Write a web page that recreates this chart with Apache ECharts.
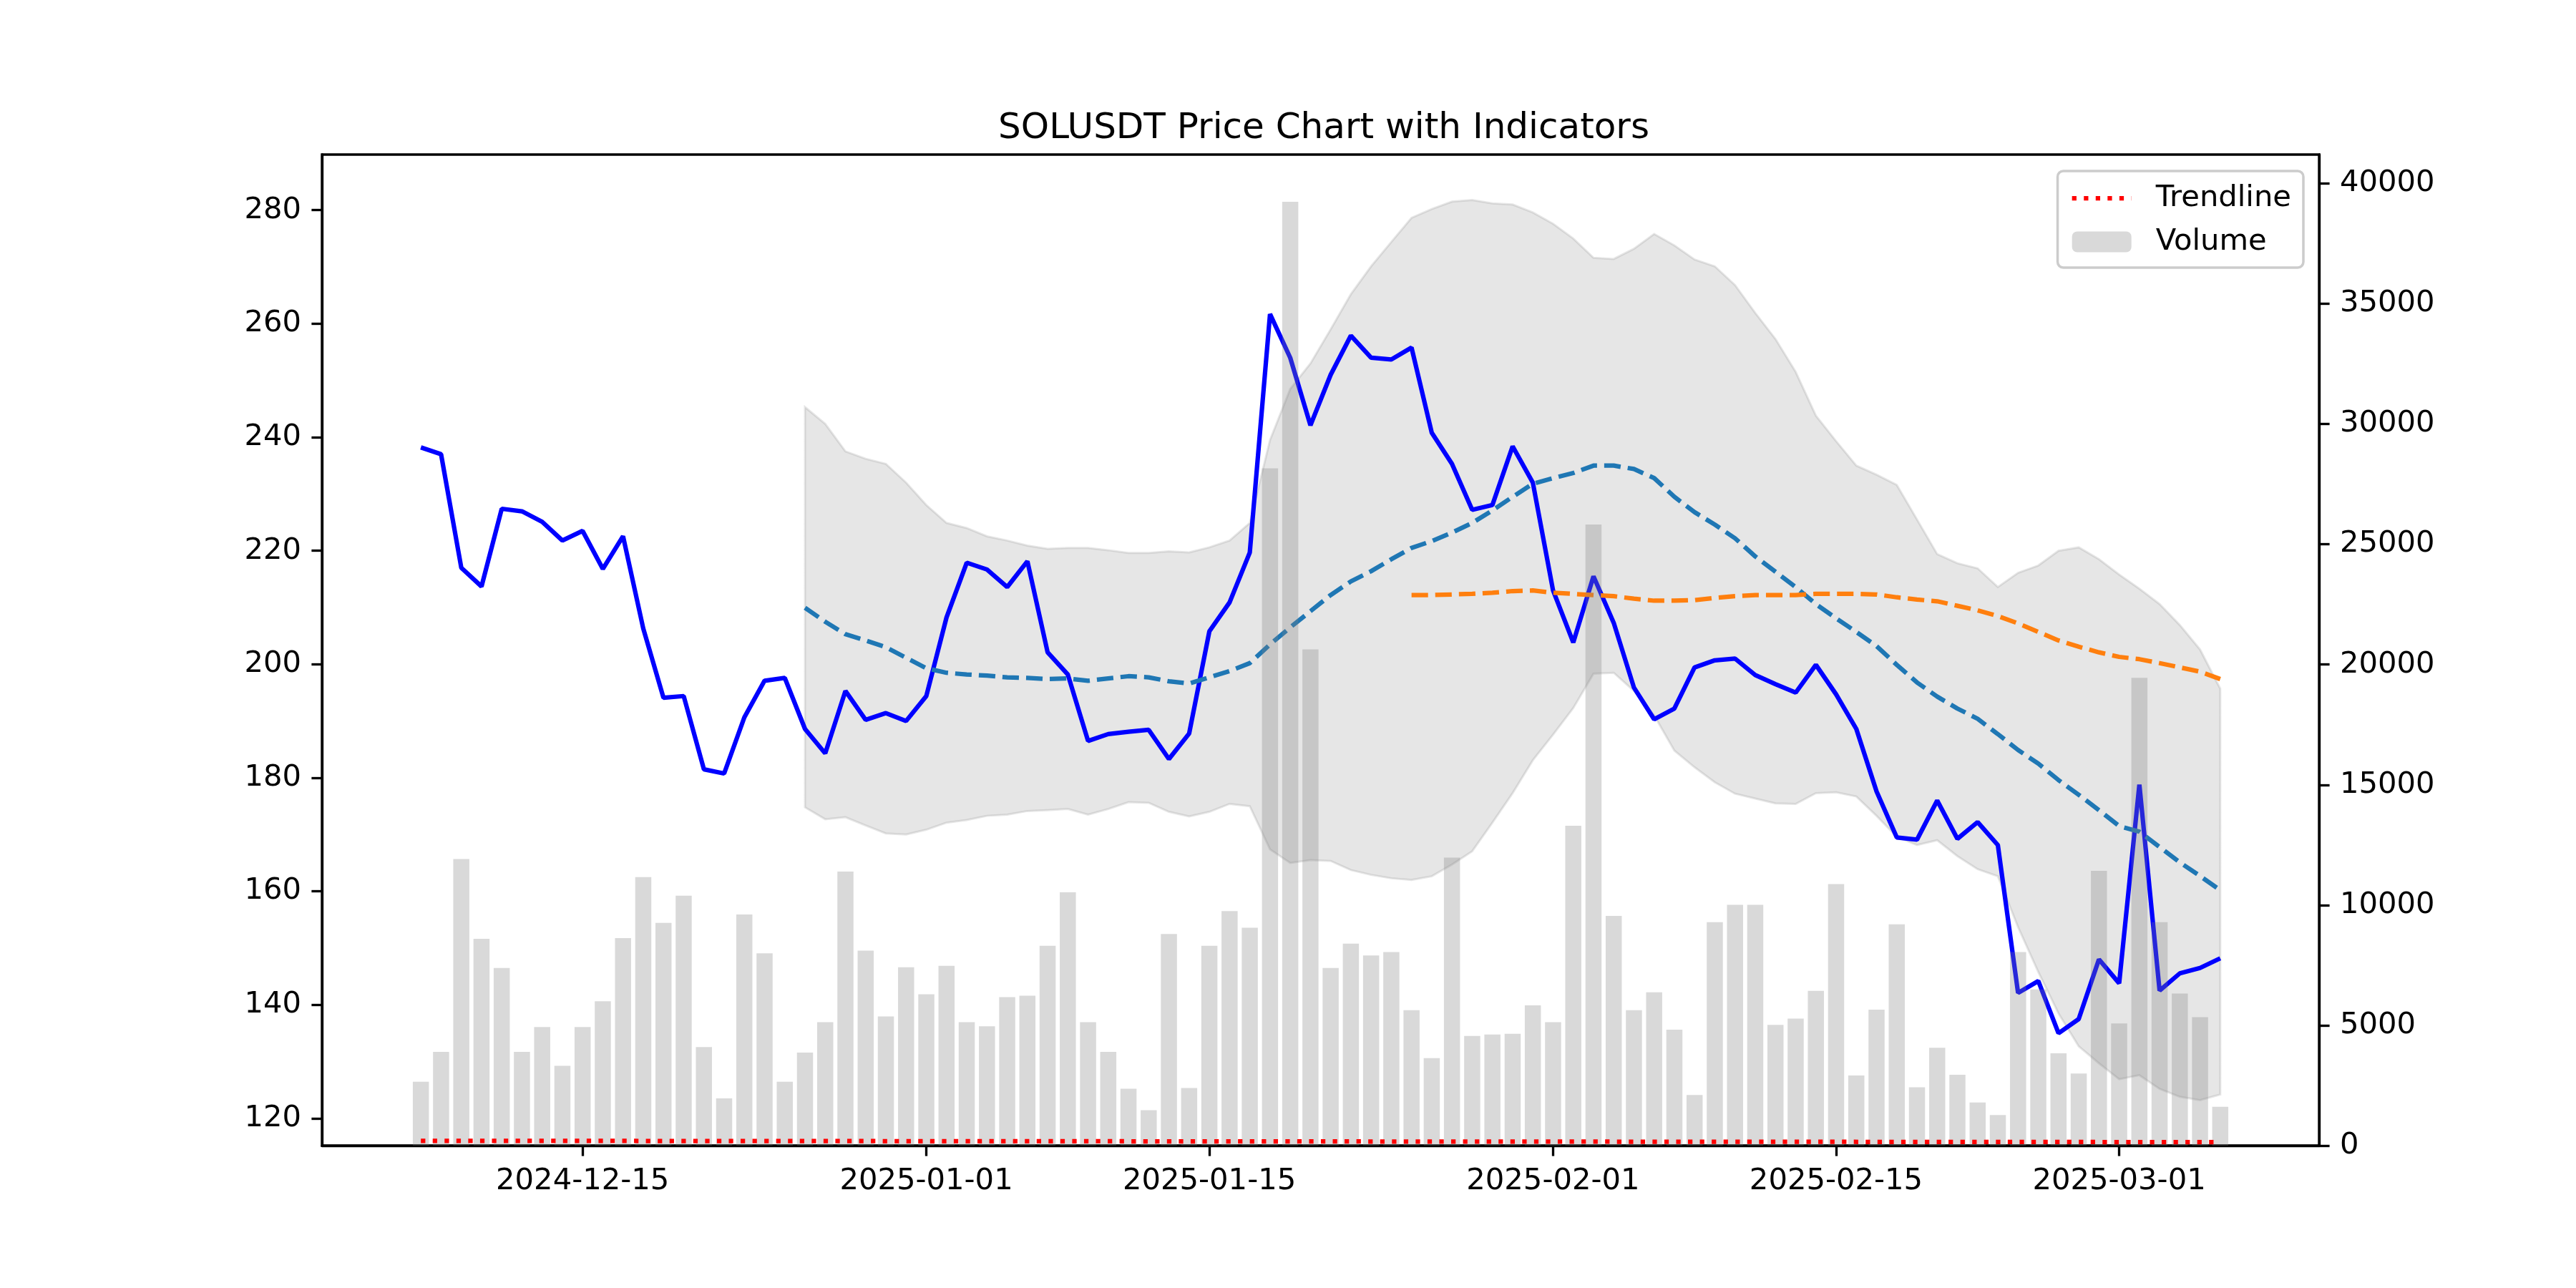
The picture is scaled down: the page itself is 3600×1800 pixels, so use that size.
<!DOCTYPE html>
<html>
<head>
<meta charset="utf-8">
<script src="https://cdn.jsdelivr.net/npm/echarts@6/dist/echarts.min.js"></script>
<style>
  html, body { margin: 0; padding: 0; background: #ffffff; }
  #priceChart { width: 3600px; height: 1800px; }
</style>
</head>
<body>
<div id="priceChart"></div>
<script>
// daily candles 2024-12-07 .. 2025-03-06
var startDate = '2024-12-07';

var price = [
    238.2, 237.0, 217.0, 213.7, 227.4, 226.95, 225.1, 221.8, 223.5, 216.8,
    222.55, 206.3, 194.1, 194.4, 181.5, 180.75, 190.65, 197.1, 197.6, 188.6,
    184.3, 195.3, 190.2, 191.4, 190.0, 194.4, 208.25, 217.9, 216.7, 213.6,
    218.15, 202.1, 198.2, 186.5, 187.7, 188.1, 188.45, 183.3, 187.8, 205.8,
    210.9, 219.7, 261.7, 254.0, 242.1, 251.0, 257.9, 254.0, 253.7, 255.8,
    240.8, 235.3, 227.2, 228.05, 238.4, 232.0, 213.0, 203.85, 215.5, 207.3,
    195.9, 190.3, 192.2, 199.45, 200.7, 201.0, 198.1, 196.5, 195.0, 199.9,
    194.7, 188.6, 177.6, 169.5, 169.1, 176.0, 169.25, 172.2, 168.15, 142.1,
    144.2, 135.0, 137.5, 148.0, 143.8, 178.8, 142.5, 145.55, 146.5, 148.2
];

var volume = [
    2654, 3895, 11915, 8597, 7386, 3895, 4933, 3318, 4933, 6001,
    8626, 11165, 9261, 10386, 4097, 1962, 9607, 7991, 2654, 3866,
    5135, 11396, 8107, 5366, 7414, 6289, 7472, 5135, 4962, 6174,
    6232, 8309, 10530, 5135, 3895, 2366, 1471, 8799, 2395, 8309,
    9751, 9059, 28158, 39236, 20628, 7386, 8395, 7905, 8049, 5626,
    3635, 11973, 4558, 4616, 4645, 5828, 5135, 13300, 25821, 9549,
    5626, 6376, 4818, 2106, 9290, 10011, 10011, 5020, 5280, 6434,
    10876, 2914, 5655, 9203, 2423, 4068, 2943, 1789, 1269, 8049,
    6491, 3837, 3000, 11425, 5078, 19445, 9290, 6318, 5337, 1616
];

// 20-day indicators start at the 20th candle, 50-day at the 50th
var sma20Start = 19;
var sma20 = [
    209.96, 207.5, 205.3, 204.2, 203.0, 201.15, 199.3, 198.5, 198.2, 198.0, 197.7,
    197.6, 197.4, 197.5, 197.1, 197.5, 197.9, 197.7, 197.0, 196.6, 197.7,
    198.8, 200.2, 203.5, 206.5, 209.35, 212.2, 214.6, 216.4, 218.5, 220.5,
    221.7, 223.2, 224.9, 227.1, 229.5, 231.8, 232.8, 233.7, 235.0, 235.0,
    234.4, 232.8, 229.5, 226.8, 224.6, 222.2, 219.0, 216.3, 213.6, 210.6,
    208.1, 205.7, 203.2, 199.9, 196.8, 194.3, 192.2, 190.4, 187.7, 184.9,
    182.5, 179.6, 177.0, 174.3, 171.5, 170.5, 167.8, 165.1, 162.7, 160.2
];
var bbUpper = [
    245.3, 242.35, 237.5, 236.2, 235.3, 232.0, 228.05, 224.9, 224.0, 222.55, 221.8,
    220.9, 220.35, 220.5, 220.5, 220.1, 219.6, 219.6, 219.9, 219.7, 220.6,
    221.8, 224.9, 239.5, 248.5, 253.0, 259.0, 265.2, 270.1, 274.4, 278.65,
    280.2, 281.5, 281.8, 281.2, 281.0, 279.6, 277.6, 275.0, 271.6, 271.4,
    273.2, 275.8, 273.8, 271.3, 270.1, 266.8, 261.9, 257.3, 251.5, 243.8,
    239.3, 235.0, 233.4, 231.6, 225.5, 219.4, 217.8, 216.9, 213.6, 216.1,
    217.4, 220.0, 220.6, 218.5, 215.8, 213.3, 210.6, 206.9, 202.6, 195.7
];
var bbLower = [
    174.8, 172.7, 173.05, 171.6, 170.2, 170.0, 170.85, 172.1, 172.55, 173.3, 173.5,
    174.15, 174.3, 174.5, 173.5, 174.5, 175.7, 175.6, 174.0, 173.2, 174.0,
    175.4, 175.0, 167.4, 165.0, 165.5, 165.35, 163.75, 162.9, 162.3, 162.0,
    162.65, 164.7, 167.05, 172.1, 177.3, 183.1, 187.6, 192.3, 198.35, 198.5,
    195.3, 191.0, 184.8, 181.85, 179.2, 177.2, 176.35, 175.5, 175.4, 177.3,
    177.45, 176.7, 173.3, 169.6, 168.15, 169.0, 166.2, 163.9, 162.65, 153.7,
    145.8, 138.5, 132.7, 129.7, 126.9, 127.6, 125.2, 123.8, 123.2, 124.2
];
var sma50Start = 49;
var sma50 = [
    212.2,
    212.2, 212.3, 212.4, 212.6, 212.9, 213.0, 212.6, 212.4, 212.2, 212.0,
    211.55, 211.2, 211.2, 211.3, 211.7, 212.0, 212.2, 212.2, 212.2, 212.4,
    212.4, 212.4, 212.3, 211.8, 211.4, 211.1, 210.3, 209.5, 208.5, 207.2,
    205.7, 204.2, 203.1, 202.1, 201.3, 200.9, 200.2, 199.45, 198.7, 197.4
];
// trendline end points (first and last candle)
var trendline = [200, 145];

var xTickLabels = ['2024-12-15', '2025-01-01', '2025-01-15', '2025-02-01', '2025-02-15', '2025-03-01'];
var priceTicks = [120, 140, 160, 180, 200, 220, 240, 260, 280];

var DAY = 86400000;
function toTime(s) {
    var p = s.split('-');
    return new Date(+p[0], +p[1] - 1, +p[2]).getTime();
}
function pad2(n) { return n < 10 ? '0' + n : '' + n; }
function fmtDate(t) {
    var d = new Date(t + 12 * 3600000);
    return d.getFullYear() + '-' + pad2(d.getMonth() + 1) + '-' + pad2(d.getDate());
}

var t0 = toTime(startDate);
var dates = [];
for (var i = 0; i < price.length; i++) {
    dates.push(toTime(fmtDate(t0 + i * DAY)));
}
function pairs(values, offset) {
    return values.map(function (v, k) { return [dates[k + offset], v]; });
}
var bandData = bbLower.map(function (v, k) { return [dates[k + sma20Start], v, bbUpper[k]]; });
var xTickTimes = xTickLabels.map(toTime);

var FONT = 'DejaVu Sans';
var AX = 3.33;
var chart = echarts.init(document.getElementById('priceChart'), null, { renderer: 'canvas' });
window.addEventListener('resize', function () {
    chart.resize();
});

chart.setOption({
    animation: false,
    backgroundColor: '#ffffff',
    title: {
        text: 'SOLUSDT Price Chart with Indicators',
        left: 1845,
        textAlign: 'center',
        top: 150,
        textStyle: { fontFamily: FONT, fontSize: 50, fontWeight: 'normal', color: '#000000' }
    },
    legend: {
        data: [{
            name: 'Trendline',
            itemStyle: { color: 'rgba(0,0,0,0)', borderColor: 'rgba(0,0,0,0)', borderWidth: 0 },
            lineStyle: { color: '#ff0000', width: 6.25, type: [6.25, 10.3], cap: 'butt' }
        }, {
            name: 'Volume'
        }],
        orient: 'vertical',
        right: 381,
        top: 239,
        align: 'left',
        itemWidth: 83,
        itemHeight: 29,
        itemGap: 19,
        padding: [17, 17, 15, 17],
        backgroundColor: 'rgba(255,255,255,0.8)',
        borderColor: '#cccccc',
        borderWidth: 3.5,
        borderRadius: 8,
        textStyle: {
            fontFamily: FONT,
            fontSize: 41.7,
            color: '#000000',
            lineHeight: 42,
            padding: [0, 0, 0, 29]
        }
    },
    grid: {
        left: 450,
        right: 359,
        top: 216,
        bottom: 199,
        show: true,
        borderColor: '#000000',
        borderWidth: AX,
        outerBoundsMode: 'none'
    },
    xAxis: {
        // dates as epoch ms on a plain value axis
        type: 'value',
        scale: true,
        min: t0 - 4.89 * DAY,
        max: dates[dates.length - 1] + 4.89 * DAY,
        splitLine: { show: false },
        axisLine: { lineStyle: { color: '#000000', width: AX } },
        axisTick: {
            length: 14.6,
            lineStyle: { color: '#000000', width: AX },
            customValues: xTickTimes
        },
        axisLabel: {
            margin: 29,
            fontFamily: FONT,
            fontSize: 41.7,
            color: '#000000',
            customValues: xTickTimes,
            formatter: function (v) { return fmtDate(v); }
        }
    },
    yAxis: [{
        type: 'value',
        min: 115.2,
        max: 289.8,
        splitLine: { show: false },
        axisLine: { show: true, lineStyle: { color: '#000000', width: AX } },
        axisTick: {
            show: true,
            length: 14.6,
            lineStyle: { color: '#000000', width: AX },
            customValues: priceTicks
        },
        axisLabel: {
            margin: 29,
            fontFamily: FONT,
            fontSize: 41.7,
            color: '#000000',
            customValues: priceTicks
        }
    }, {
        type: 'value',
        position: 'right',
        min: 0,
        max: 41200,
        interval: 5000,
        splitLine: { show: false },
        axisLine: { show: true, lineStyle: { color: '#000000', width: AX } },
        axisTick: { show: true, length: 14.6, lineStyle: { color: '#000000', width: AX } },
        axisLabel: {
            margin: 29,
            fontFamily: FONT,
            fontSize: 41.7,
            color: '#000000',
            showMaxLabel: false,
            formatter: function (v) { return String(v); }
        }
    }],
    series: [
        {
            // bollinger band drawn as one closed polygon (upper edge, then lower edge back)
            name: 'Bollinger Band',
            type: 'custom',
            silent: true,
            z: 1,
            encode: { x: 0, y: [1, 2] },
            renderItem: function (params, api) {
                if (params.dataIndex !== 0) return null;
                var pts = [];
                for (var k = 0; k < bandData.length; k++) {
                    pts.push(api.coord([bandData[k][0], bandData[k][2]]));
                }
                for (var m = bandData.length - 1; m >= 0; m--) {
                    pts.push(api.coord([bandData[m][0], bandData[m][1]]));
                }
                return {
                    type: 'polygon',
                    shape: { points: pts },
                    style: {
                        fill: 'rgba(128,128,128,0.2)',
                        stroke: 'rgba(128,128,128,0.2)',
                        lineWidth: 3
                    }
                };
            },
            data: bandData
        },
        {
            name: 'Price',
            type: 'line',
            symbol: 'none',
            z: 3,
            lineStyle: { color: '#0000ff', width: 6.25 },
            data: pairs(price, 0)
        },
        {
            name: 'SMA 20',
            type: 'line',
            symbol: 'none',
            z: 3,
            lineStyle: { color: '#1f77b4', width: 6.25, type: [23.1, 10], cap: 'butt' },
            data: pairs(sma20, sma20Start)
        },
        {
            name: 'SMA 50',
            type: 'line',
            symbol: 'none',
            z: 3,
            lineStyle: { color: '#ff7f0e', width: 6.25, type: [23.1, 10], cap: 'butt' },
            data: pairs(sma50, sma50Start)
        },
        {
            name: 'Volume',
            type: 'bar',
            yAxisIndex: 1,
            barWidth: 22.5,
            z: 10,
            itemStyle: { color: 'rgba(128,128,128,0.3)' },
            data: pairs(volume, 0)
        },
        {
            name: 'Trendline',
            type: 'line',
            yAxisIndex: 1,
            symbol: 'none',
            z: 11,
            itemStyle: { color: '#ff0000' },
            lineStyle: { color: '#ff0000', width: 6.25, type: [6.25, 10.3], cap: 'butt' },
            data: [[dates[0], trendline[0]], [dates[dates.length - 1], trendline[1]]]
        }
    ]
});
</script>
</body>
</html>
